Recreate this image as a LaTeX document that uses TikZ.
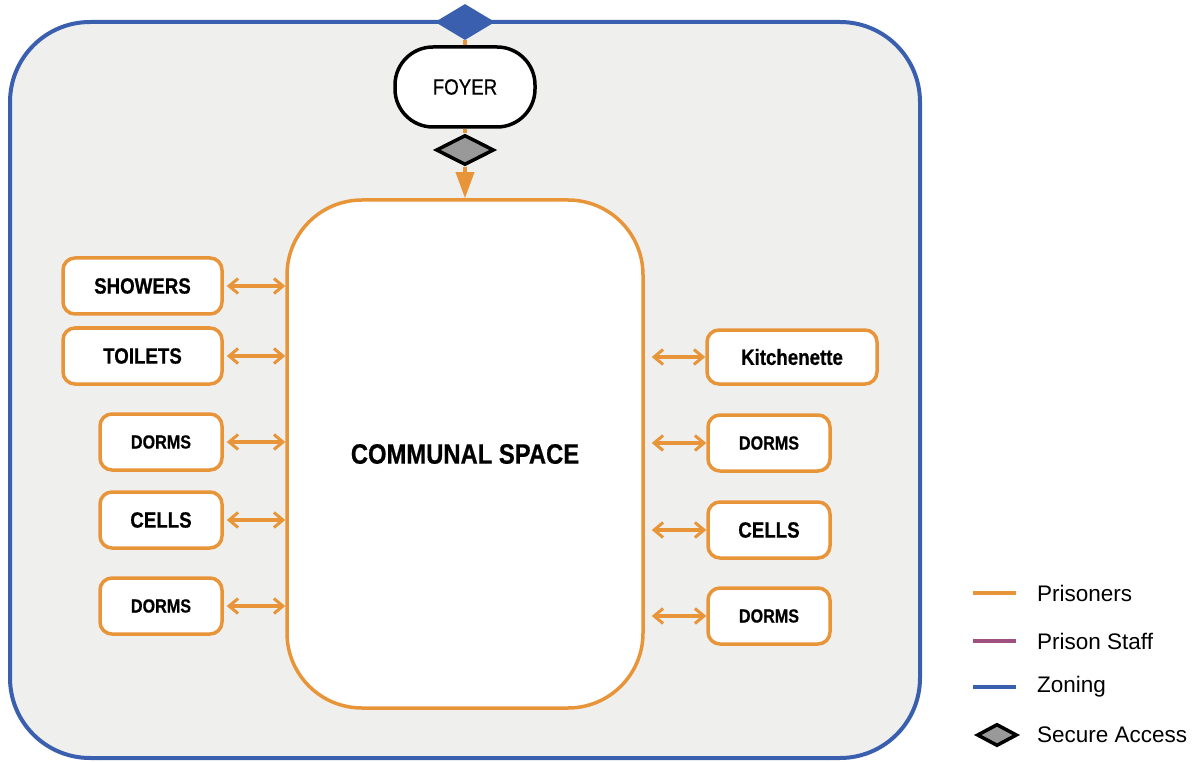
\documentclass[tikz,border=0pt]{standalone}
\usepackage{fontspec}
\setmainfont{Liberation Sans}
\newfontfamily\narrowsans[FakeStretch=0.85,FakeBold=0.6]{Liberation Sans}
\usepackage{xcolor}
\usetikzlibrary{positioning,shapes.geometric,arrows.meta}

\definecolor{prisonorange}{HTML}{E8953A}
\definecolor{zoneblue}{HTML}{3A5FAF}
\definecolor{staffpurple}{HTML}{A0507F}
\definecolor{zonegray}{HTML}{EFEFED}
\definecolor{securegray}{HTML}{999999}

\tikzset{
  roombox/.style={draw=prisonorange, fill=white, line width=3.5pt, rounded corners=12pt,
    inner sep=0pt, font=\narrowsans\bfseries\fontsize{22}{24}\selectfont},
  smallroom/.style={roombox, minimum width=122, minimum height=56,
    font=\narrowsans\bfseries\fontsize{19}{21}\selectfont},
  flowarrow/.style={draw=prisonorange, line width=3.5pt,
    {Straight Barb[length=9pt,width=15pt,line width=3pt]}-{Straight Barb[length=9pt,width=15pt,line width=3pt]}},
  secure/.style={diamond, draw=black, fill=securegray, line width=3.5pt, inner sep=0pt,
    minimum width=58, minimum height=30},
  legendtext/.style={anchor=west, inner sep=0pt, font=\fontsize{22.5}{24}\selectfont},
}

\begin{document}
\begin{tikzpicture}[x=1pt,y=1pt,yscale=-1,xscale=1]
\useasboundingbox (0,0) rectangle (1203,762);

% Zone
\draw [line width=4pt, draw=zoneblue, fill=zonegray, rounded corners=80pt] (10,22) rectangle (920,758);

% Communal space and foyer
\node (comm) [draw=prisonorange, fill=white, line width=3.5pt, rounded corners=75pt,
  minimum width=356, minimum height=508, font=\narrowsans\bfseries\fontsize{28}{30}\selectfont] at (465,454) {COMMUNAL SPACE};
\node (foyer) [draw=black, fill=white, line width=3.5pt, rounded corners=38pt,
  minimum width=140, minimum height=80, font=\narrowsans\fontsize{22}{24}\selectfont] at (465,87) {FOYER};
\node (entry) [diamond, fill=zoneblue, inner sep=0pt, minimum width=60, minimum height=36] at (465,22) {};
\node (gate) [secure] at (465,150) {};

\draw [prisonorange, line width=3.5pt] (entry.south) -- (foyer.north);
\draw [prisonorange, line width=3.5pt] (foyer.south) -- (gate.north);
\draw [prisonorange, line width=3.5pt, -{Triangle[length=26pt,width=18pt]}] (gate.south) -- (comm.north);

% Left rooms
\node (showers) [roombox, minimum width=159, minimum height=56] at (142.5,286) {SHOWERS};
\node (toilets) [roombox, minimum width=159, minimum height=56] at (142.5,356) {TOILETS};
\node (dormsA) [smallroom] at (161,442) {DORMS};
\node (cellsA) [roombox, minimum width=122, minimum height=56] at (161,520) {CELLS};
\node (dormsB) [smallroom] at (161,606) {DORMS};

% Right rooms
\node (kitchen) [roombox, minimum width=170, minimum height=54] at (792,357) {Kitchenette};
\node (dormsC) [smallroom] at (769,443) {DORMS};
\node (cellsB) [roombox, minimum width=122, minimum height=56] at (769,530) {CELLS};
\node (dormsD) [smallroom] at (769,616) {DORMS};

\foreach \room in {showers,toilets,dormsA,cellsA,dormsB}
  \draw [flowarrow, shorten <=3pt] (\room.east) -- (\room.east -| comm.west);
\foreach \room in {kitchen,dormsC,cellsB,dormsD}
  \draw [flowarrow, shorten <=7pt] (\room.west -| comm.east) -- (\room.west);

% Legend
\coordinate (keyA) at (973,593);
\coordinate (keyB) at (973,641);
\coordinate (keyC) at (973,687);
\draw [line width=3.5pt, prisonorange] (keyA) -- ++(43,0);
\draw [line width=3.5pt, staffpurple] (keyB) -- ++(43,0);
\draw [line width=3.5pt, zoneblue] (keyC) -- ++(43,0);
\node (keyD) [secure, minimum width=40, minimum height=22] at (997,735) {};
\node [legendtext] at (1037,593) {Prisoners};
\node [legendtext] at (1037,641) {Prison Staff};
\node [legendtext] at (1037,687) {Zoning};
\node [legendtext] at (1037,735) {Secure Access};

\end{tikzpicture}
\end{document}
